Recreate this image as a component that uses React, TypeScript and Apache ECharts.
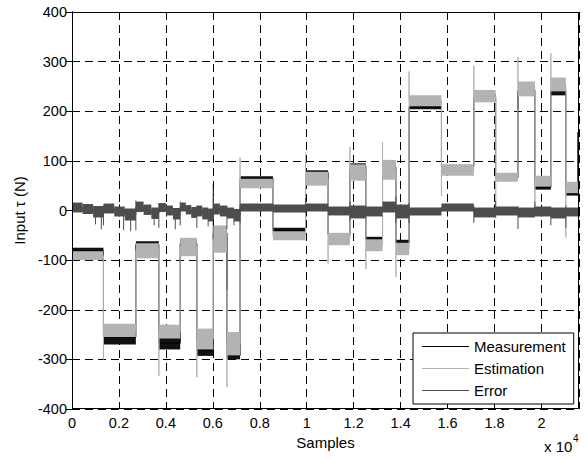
import React, { useEffect, useRef } from 'react';
import * as echarts from 'echarts';

// ---------- data ----------
const X_MAX = 21600;

// sample index of every step of the reference torque
const stepSamples = [1340, 2720, 3700, 4610, 5320, 6020, 6600, 7160, 8560, 9950, 10910, 11840, 12520, 13230, 13800, 14360, 15740, 17120, 18050, 19000, 19720, 20400, 21040];

// Estimation: noise envelope per constant segment (24 segments)
const estLow = [-100, -255, -96, -258, -92, -280, -85, -292, 45, -60, 50, -70, 60, -82, 62, -90, 210, 70, 218, 58, 230, 48, 240, 35];
const estHigh = [-82, -228, -66, -230, -55, -238, -30, -245, 64, -42, 78, -45, 93, -58, 102, -65, 232, 92, 243, 76, 260, 70, 268, 58];
// Estimation: overshoot value at each step (null = none)
const estPeak = [-300, null, -333, null, -336, null, -356, 107, null, 117, -107, 128, -118, 138, -134, 280, 30, 292, 10, 309, 5, 317, -54];

// Measurement: noise envelope per constant segment
const measLow = [-88, -270, -75, -280, -75, -293, -55, -300, 60, -45, 72, -52, 85, -62, 80, -72, 204, 86, 222, 62, 235, 42, 232, 30];
const measHigh = [-75, -240, -62, -255, -58, -270, -35, -285, 69, -35, 81, -46, 95, -53, 95, -59, 212, 92, 235, 70, 250, 51, 250, 41];
// Measurement: isolated spikes [sample, low, high]
const measSpikes = [[6020, -60, 55], [6600, -160, -55], [19000, 205, 240], [21550, 35, 158]];

// Error: [start, end, low, high]
const errSegments = [
  [0, 450, -4, 16], [450, 900, -7, 13], [900, 1340, -14, 9],
  [1340, 1800, -6, 14], [1800, 2250, -12, 8], [2250, 2720, -20, 4],
  [2720, 3050, -3, 18], [3050, 3380, -9, 12], [3380, 3700, -17, 6],
  [3700, 4000, -3, 15], [4000, 4300, -10, 10], [4300, 4610, -18, 5],
  [4610, 4850, -2, 16], [4850, 5080, -8, 11], [5080, 5320, -15, 7],
  [5320, 5550, -12, 10], [5550, 5800, -18, 6], [5800, 6020, -22, 4],
  [6020, 6300, -8, 14], [6300, 6600, -12, 10],
  [6600, 6900, -16, 6], [6900, 7160, -22, 3],
  [7160, 8560, -2, 14], [8560, 9950, -4, 12], [9950, 10910, -2, 14],
  [10910, 11840, -10, 8], [11840, 12520, -16, 10], [12520, 13230, -12, 8], [13230, 13800, -4, 18],
  [13800, 14360, -16, 12], [14360, 15740, -10, 6], [15740, 17120, -2, 14], [17120, 18050, -14, 6],
  [18050, 19000, -10, 8], [19000, 19720, -14, 6], [19720, 20400, -12, 8], [20400, 21040, -16, 6],
  [21040, 21600, -12, 6],
];
// Error: spikes [sample, low, high]
const errSpikes = [
  [1000, -28, 0], [1250, -38, 0], [1340, -30, 10], [2200, -40, 0], [2500, -42, 0], [2720, -40, 20],
  [3500, -30, 0], [3700, -35, 15], [4400, -38, 0], [4610, -30, 18], [5320, -35, 10], [5800, -32, 0],
  [6020, -20, 30], [6600, -38, 10], [6900, -30, 0], [7160, -25, 12], [9950, -5, 25], [11840, -20, 18],
  [13800, -25, 28], [14360, -25, 15], [17120, -25, 10], [18050, -15, 20], [19000, -37, 8],
  [19720, -10, 18], [20400, -30, 8], [21040, -35, 10],
];

const seriesNames = ['Measurement', 'Estimation', 'Error'];
const seriesColors = ['#000000', '#b3b3b3', '#4d4d4d'];

// ---------- layout ----------
const W = 587;
const H = 460;
const G_LEFT = 72;
const G_RIGHT = 8;
const G_TOP = 12;
const G_BOTTOM = 51;
const FONT = 'Arial, "Liberation Sans", Helvetica, sans-serif';
const LEGEND_ICON = 'path://M0,0L47,0L47,1L0,1Z';

function segmentsFrom(low: number[], high: number[]) {
  const bounds = [0, ...stepSamples, X_MAX];
  return low.map((lo, i) => [bounds[i], bounds[i + 1], lo, high[i]]);
}

function stepLine(low: number[], high: number[], peaks: (number | null)[] | null) {
  const mid = (i: number) => (low[i] + high[i]) / 2;
  const pts: number[][] = [[0, mid(0)]];
  stepSamples.forEach((t, i) => {
    pts.push([t, mid(i)]);
    if (peaks && peaks[i] !== null) pts.push([t, peaks[i] as number]);
    pts.push([t, mid(i + 1)]);
  });
  pts.push([X_MAX, mid(low.length - 1)]);
  return pts;
}

function bandSeries(name: string, color: string, data: number[][], z: number) {
  return {
    type: 'custom',
    name,
    z,
    data,
    encode: { x: [0, 1], y: [2, 3] },
    renderItem: (_p: any, api: any) => {
      const a = api.coord([api.value(0), api.value(3)]);
      const b = api.coord([api.value(1), api.value(2)]);
      return {
        type: 'rect',
        shape: { x: a[0], y: a[1], width: Math.max(b[0] - a[0], 0.5), height: Math.max(b[1] - a[1], 1) },
        style: { fill: color },
      };
    },
  };
}

function spikeSeries(name: string, color: string, data: number[][], z: number) {
  return {
    type: 'custom',
    name,
    z,
    data,
    encode: { x: 0, y: [1, 2] },
    renderItem: (_p: any, api: any) => {
      const a = api.coord([api.value(0), api.value(1)]);
      const b = api.coord([api.value(0), api.value(2)]);
      return {
        type: 'line',
        shape: { x1: a[0], y1: a[1], x2: b[0], y2: b[1] },
        style: { stroke: color, lineWidth: 1 },
      };
    },
  };
}

export default function App() {
  const ref = useRef<HTMLDivElement>(null);

  useEffect(() => {
    if (!ref.current) return;
    const chart = echarts.init(ref.current, undefined, { renderer: 'svg' });

    const errLine: number[][] = [];
    errSegments.forEach((s) => {
      const m = (s[2] + s[3]) / 2;
      errLine.push([s[0], m], [s[1], m]);
    });

    const axisCommonX = { type: 'value', min: 0, max: X_MAX, interval: 2000 };
    const axisCommonY = { type: 'value', min: -400, max: 400, interval: 100 };
    const tick = { show: true, inside: true, length: 6, lineStyle: { color: '#000' } };
    const line = { show: true, lineStyle: { color: '#000', width: 1 } };
    const dashed = { show: true, lineStyle: { color: '#000', type: [8, 5], width: 1 } };

    const option: any = {
      animation: false,
      backgroundColor: '#ffffff',
      textStyle: { fontFamily: FONT },
      grid: { left: G_LEFT, right: G_RIGHT, top: G_TOP, bottom: G_BOTTOM, containLabel: false },
      legend: {
        data: seriesNames.map((n) => ({ name: n, icon: LEGEND_ICON })),
        orient: 'vertical',
        left: 413,
        top: 333,
        padding: [6, 8, 6, 9],
        itemGap: 7,
        itemWidth: 47,
        itemHeight: 14,
        backgroundColor: '#ffffff',
        borderColor: '#000000',
        borderWidth: 1,
        borderRadius: 0,
        textStyle: { fontSize: 15, color: '#000', fontFamily: FONT },
        z: 50,
      },
      xAxis: [
        {
          ...axisCommonX,
          position: 'bottom',
          name: 'Samples',
          nameLocation: 'middle',
          nameGap: 23,
          nameTextStyle: { fontSize: 15, color: '#000', fontFamily: FONT },
          axisLine: line,
          axisTick: tick,
          axisLabel: {
            color: '#000',
            fontSize: 14.5,
            fontFamily: FONT,
            margin: 6,
            showMaxLabel: false,
            formatter: (v: number) => String(parseFloat((v / 10000).toFixed(1))),
          },
          splitLine: dashed,
        },
        {
          ...axisCommonX,
          position: 'top',
          axisLine: line,
          axisTick: tick,
          axisLabel: { show: false },
          splitLine: { show: false },
        },
      ],
      yAxis: [
        {
          ...axisCommonY,
          position: 'left',
          name: 'Input τ (N)',
          nameLocation: 'middle',
          nameGap: 41,
          nameTextStyle: { fontSize: 15, color: '#000', fontFamily: FONT },
          axisLine: line,
          axisTick: tick,
          axisLabel: { color: '#000', fontSize: 14.5, fontFamily: FONT, margin: 5 },
          splitLine: dashed,
        },
        {
          ...axisCommonY,
          position: 'right',
          axisLine: line,
          axisTick: tick,
          axisLabel: { show: false },
          splitLine: { show: false },
        },
      ],
      series: [
        {
          type: 'line',
          name: seriesNames[0],
          data: stepLine(measLow, measHigh, null),
          symbol: 'none',
          showSymbol: false,
          z: 2,
          lineStyle: { color: seriesColors[0], width: 1 },
          itemStyle: { color: seriesColors[0] },
        },
        {
          type: 'line',
          name: seriesNames[1],
          data: stepLine(estLow, estHigh, estPeak),
          symbol: 'none',
          showSymbol: false,
          z: 4,
          lineStyle: { color: seriesColors[1], width: 1 },
          itemStyle: { color: seriesColors[1] },
        },
        {
          type: 'line',
          name: seriesNames[2],
          data: errLine,
          symbol: 'none',
          showSymbol: false,
          z: 6,
          lineStyle: { color: seriesColors[2], width: 1 },
          itemStyle: { color: seriesColors[2] },
        },
        bandSeries(seriesNames[0], '#111111', segmentsFrom(measLow, measHigh), 1),
        spikeSeries(seriesNames[0], seriesColors[0], measSpikes, 1),
        bandSeries(seriesNames[1], seriesColors[1], segmentsFrom(estLow, estHigh), 3),
        bandSeries(seriesNames[2], seriesColors[2], errSegments, 5),
        spikeSeries(seriesNames[2], seriesColors[2], errSpikes, 5),
      ],
      graphic: [
        {
          type: 'rect',
          z: 100,
          silent: true,
          shape: { x: G_LEFT + 0.5, y: G_TOP + 0.5, width: W - G_LEFT - G_RIGHT - 1, height: H - G_TOP - G_BOTTOM - 1 },
          style: { fill: 'none', stroke: '#000', lineWidth: 1 },
        },
        {
          type: 'text',
          z: 100,
          x: 544,
          y: 446,
          style: { text: 'x 10', fontSize: 15, fontFamily: FONT, fill: '#000', verticalAlign: 'middle', align: 'left' },
        },
        {
          type: 'text',
          z: 100,
          x: 573,
          y: 438,
          style: { text: '4', fontSize: 10, fontFamily: FONT, fill: '#000', verticalAlign: 'middle', align: 'left' },
        },
      ],
    };

    chart.setOption(option);
    return () => chart.dispose();
  }, []);

  return <div ref={ref} style={{ position: 'absolute', left: 0, top: 0, width: W, height: H }} />;
}
